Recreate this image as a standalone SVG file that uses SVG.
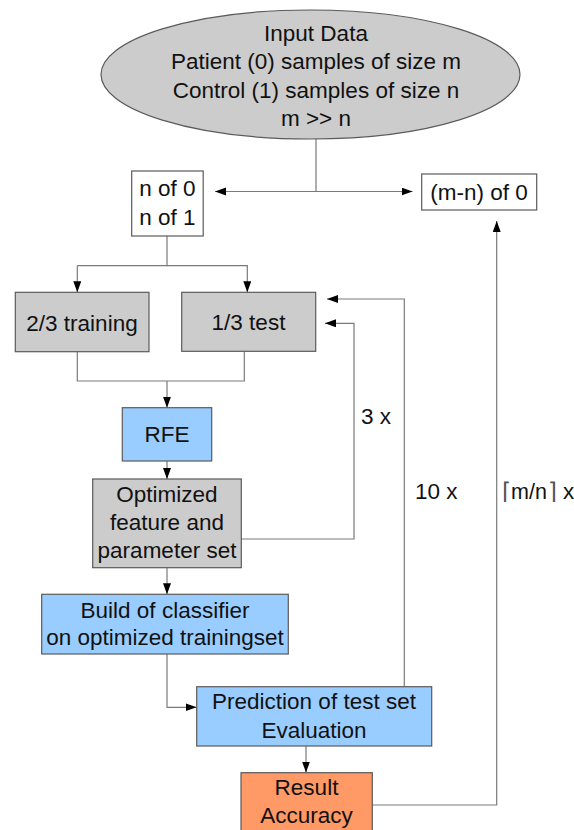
<svg xmlns="http://www.w3.org/2000/svg" width="574" height="830" viewBox="0 0 574 830">
<style>
text{font-family:"Liberation Sans",Arial,sans-serif;font-size:22.5px;fill:#111;text-anchor:middle}
.box{stroke:#5a5a5a;stroke-width:1.2}
.white{fill:#fff}
.gray{fill:#cccccc}
.blue{fill:#99ccff}
.orange{fill:#ff9966}
.conn{fill:none;stroke:#7a7a7a;stroke-width:1.2}
.arr{marker-end:url(#ah)}
.lbl{text-anchor:start}
.ceil{font-family:"DejaVu Sans ExtraLight","DejaVu Sans",sans-serif;font-weight:200;fill:#555}
</style>
<defs>
<marker id="ah" markerUnits="userSpaceOnUse" markerWidth="12" markerHeight="9" refX="11" refY="4" orient="auto">
<path d="M0,0 L11,4 L0,8 z" fill="#000"/>
</marker>
</defs>
<g id="connectors">
<path class="conn" d="M316,139 V191.5"/>
<path class="conn arr" d="M316,191.5 H215"/>
<path class="conn arr" d="M316,191.5 H412.5"/>
<path class="conn" d="M167,236 V265.7 H77.3"/>
<path class="conn arr" d="M77.3,265.7 V292.3"/>
<path class="conn arr" d="M167,265.7 H247.3 V292.3"/>
<path class="conn" d="M77.3,352 V381 H244.3 V351.5"/>
<path class="conn arr" d="M167,381 V407.7"/>
<path class="conn arr" d="M167,461 V479"/>
<path class="conn arr" d="M241.3,539 H354 V323.3 H325"/>
<path class="conn arr" d="M167,568 V594.3"/>
<path class="conn arr" d="M167,654 V707.3 H196.5"/>
<path class="conn arr" d="M404.3,686.7 V299 H327"/>
<path class="conn arr" d="M306,746 V772.5"/>
<path class="conn arr" d="M372.3,805 H496.7 V221"/>
</g>
<g id="input-data">
<ellipse class="box gray" cx="310.5" cy="74.5" rx="209.5" ry="64.5"/>
<text x="316" y="40.5">Input Data</text>
<text x="316" y="69">Patient (0) samples of size m</text>
<text x="316" y="97.5">Control (1) samples of size n</text>
<text x="316" y="126">m &gt;&gt; n</text>
</g>
<g id="n-of">
<rect class="box white" x="131.7" y="171" width="71.5" height="65"/>
<text x="167.5" y="196">n of 0</text>
<text x="167.5" y="225">n of 1</text>
</g>
<g id="mn-of-0">
<rect class="box white" x="421.7" y="174" width="115" height="36"/>
<text x="479" y="199.5">(m-n) of 0</text>
</g>
<g id="training">
<rect class="box gray" x="15.3" y="292.3" width="133.7" height="59.4"/>
<text x="82" y="330.5">2/3 training</text>
</g>
<g id="test">
<rect class="box gray" x="181.7" y="292.3" width="134" height="59"/>
<text x="248.5" y="329.5">1/3 test</text>
</g>
<g id="rfe">
<rect class="box blue" x="122.3" y="407.7" width="89.4" height="53.3"/>
<text x="167" y="441.7">RFE</text>
</g>
<g id="optimized">
<rect class="box gray" x="92.7" y="479" width="148.6" height="88.7"/>
<text x="167" y="501.7">Optimized</text>
<text x="167" y="530">feature and</text>
<text x="167" y="558.3">parameter set</text>
</g>
<g id="build">
<rect class="box blue" x="41.7" y="594.3" width="246.6" height="59.7"/>
<text x="165" y="618.3">Build of classifier</text>
<text x="165" y="645">on optimized trainingset</text>
</g>
<g id="prediction">
<rect class="box blue" x="196.7" y="686.7" width="235" height="59.3"/>
<text x="314" y="709.3">Prediction of test set</text>
<text x="314" y="737.7">Evaluation</text>
</g>
<g id="result">
<rect class="box orange" x="241" y="772.7" width="131.3" height="70"/>
<text x="306.5" y="795">Result</text>
<text x="306.5" y="823.3">Accuracy</text>
</g>
<g id="labels">
<text class="lbl" x="361" y="424.3">3 x</text>
<text class="lbl" x="415" y="499.3">10 x</text>
<text class="lbl" y="499.3"><tspan class="ceil" x="502">⌈</tspan><tspan x="511" style="font-size:21.5px">m/n</tspan><tspan class="ceil" x="547.5">⌉</tspan><tspan x="563">x</tspan></text>
</g>
</svg>
